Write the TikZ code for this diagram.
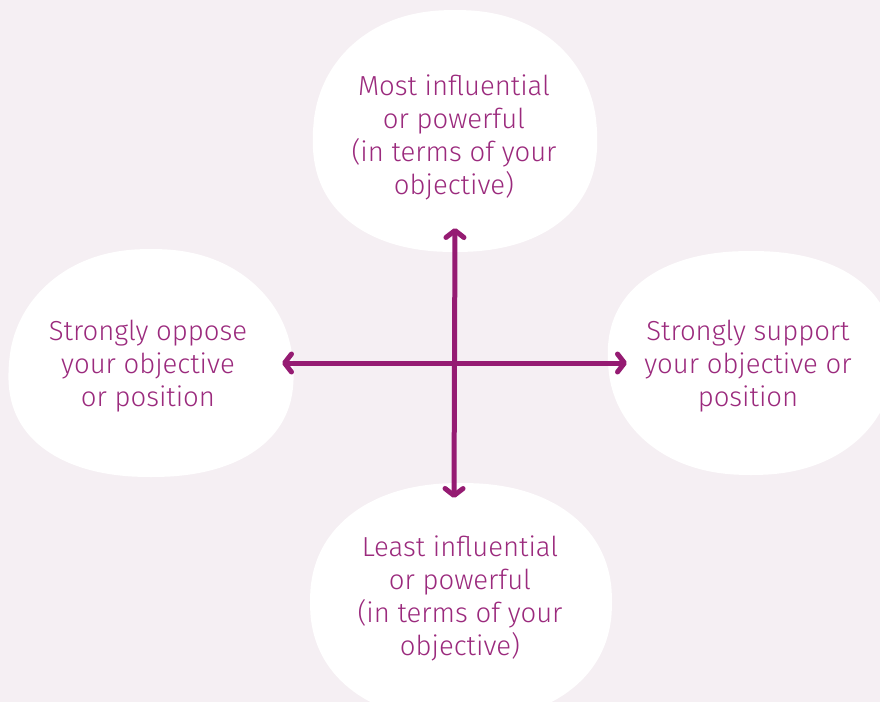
\documentclass[tikz,border=0pt]{standalone}
\usepackage{fontspec}
\setmainfont{Fira Sans}[UprightFont=* Light]
\usetikzlibrary{arrows.meta}
\definecolor{bgpink}{HTML}{F5EFF3}
\definecolor{arrowpurple}{HTML}{951B72}
\definecolor{textpurple}{HTML}{9B2A7D}
\tikzset{
  blob/.style={fill=white, draw=none},
  label/.style={text=textpurple, align=center, font=\fontsize{27.5}{33}\selectfont, inner sep=0pt},
  axis/.style={draw=arrowpurple, line width=5pt, line cap=round, line join=round,
    {Straight Barb[length=7pt,width=18pt,round]}-{Straight Barb[length=7pt,width=18pt,round]}}
}
% superellipse-like blob: centre x, centre y, radius x, radius y, skew
\newcommand\myblob[5]{%
  \path[blob] plot[smooth cycle, domain=0:354, samples=60, variable=\t]
    ({#1 + #3*sign(cos(\t))*pow(abs(cos(\t)),0.9) + #5*sin(2*\t)},
     {#2 + #4*sign(sin(\t))*pow(abs(sin(\t)),0.9)});}
\begin{document}
\begin{tikzpicture}[x=1pt,y=-1pt]
\useasboundingbox (0,0) rectangle (880,702);
\fill[bgpink] (0,0) rectangle (880,702);
% blobs
\myblob{455}{131}{142}{121}{4}
\myblob{151}{363}{142}{114}{6}
\myblob{751}{363}{143}{112}{-4}
\myblob{461}{602}{151}{119}{0}
% labels
\node[label] (top) at (454,137) {Most influential\\or powerful\\(in terms of your\\objective)};
\node[label] (left) at (148,366) {Strongly oppose\\your objective\\or position};
\node[label] (right) at (748,366) {Strongly support\\your objective or\\position};
\node[label] (bottom) at (460,598) {Least influential\\or powerful\\(in terms of your\\objective)};
% axes
\coordinate (vt) at (455,228);
\coordinate (vb) at (454,498);
\coordinate (hl) at (282,363);
\coordinate (hr) at (627,363);
\draw[axis] (vt) -- (vb);
\draw[axis] (hl) -- (hr);
\end{tikzpicture}
\end{document}
